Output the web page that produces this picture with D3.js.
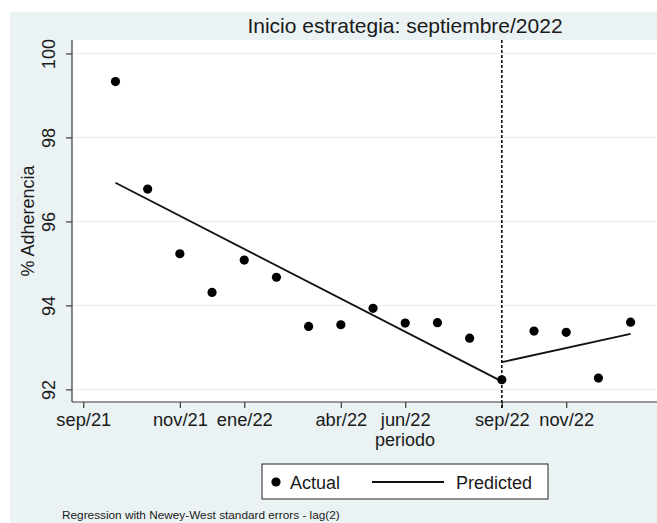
<!DOCTYPE html>
<html>
<head>
<meta charset="utf-8">
<script src="https://cdn.jsdelivr.net/npm/d3@7"></script>
<style>
  html, body { margin: 0; padding: 0; background: #ffffff; }
  svg { display: block; }
  text { font-family: "Liberation Sans", Arial, sans-serif; fill: #1a1a1a; }
</style>
</head>
<body>
<script>
// ---- data ----
const periods = [1, 2, 3, 4, 5, 6, 7, 8, 9, 10, 11, 12, 13, 14, 15, 16, 17];
const actual = [99.33, 96.77, 95.23, 94.31, 95.08, 94.67, 93.50, 93.54, 93.93, 93.58, 93.59, 93.22, 92.23, 93.39, 93.36, 92.27, 93.60];
const predPrePeriods = [1, 13];
const predPreValues = [96.92, 92.19];
const predPostPeriods = [13, 17];
const predPostValues = [92.65, 93.32];
const interventionPeriod = 13;
const xTickValues = [0, 3, 5, 8, 10, 13, 15];
const xTickLabels = ["sep/21", "nov/21", "ene/22", "abr/22", "jun/22", "sep/22", "nov/22"];
const yTickValues = [92, 94, 96, 98, 100];
const titleText = "Inicio estrategia: septiembre/2022";
const yTitle = "% Adherencia";
const xTitle = "periodo";
const legendLabels = ["Actual", "Predicted"];
const noteText = "Regression with Newey-West standard errors - lag(2)";

// ---- layout ----
const W = 657, H = 523;
const plot = { left: 72, right: 657, top: 40, bottom: 402 };
const bg = "#eaf2f3";

const svg = d3.select("body").append("svg").attr("width", W).attr("height", H);

// graph region background
svg.append("rect").attr("x", 10).attr("y", 12).attr("width", W - 10).attr("height", H - 12).attr("fill", bg);
// plot region
svg.append("rect").attr("x", plot.left).attr("y", plot.top)
  .attr("width", plot.right - plot.left).attr("height", plot.bottom - plot.top).attr("fill", "#ffffff");

const x = d3.scaleLinear().domain([-0.35, 17.82]).range([plot.left, plot.right]);
const y = d3.scaleLinear().domain([91.70, 100.32]).range([plot.bottom, plot.top]);

// grid lines
svg.append("g").selectAll("line").data(yTickValues).join("line")
  .attr("x1", plot.left).attr("x2", plot.right)
  .attr("y1", d => y(d)).attr("y2", d => y(d))
  .attr("stroke", bg).attr("stroke-width", 1.2);

// y axis
const yAxis = svg.append("g").attr("transform", `translate(${plot.left},0)`)
  .call(d3.axisLeft(y).tickValues(yTickValues).tickSize(6).tickSizeOuter(0).tickFormat(d3.format("d")));
yAxis.select(".domain").attr("stroke", "#3a3a3a").attr("stroke-width", 1.2)
  .attr("d", `M0,${plot.top}V${plot.bottom}`);
yAxis.selectAll(".tick line").attr("stroke", "#3a3a3a").attr("stroke-width", 1.2);
yAxis.selectAll(".tick text")
  .attr("font-size", 18).attr("fill", "#1a1a1a")
  .attr("x", null).attr("dy", null)
  .attr("text-anchor", "middle")
  .attr("transform", "translate(-17,0) rotate(-90)");

// x axis
const xAxis = svg.append("g").attr("transform", `translate(0,${plot.bottom})`)
  .call(d3.axisBottom(x).tickValues(xTickValues).tickSize(6).tickSizeOuter(0)
    .tickFormat((d, i) => xTickLabels[i]));
xAxis.select(".domain").attr("stroke", "#3a3a3a").attr("stroke-width", 1.2)
  .attr("d", `M${plot.left},0H${plot.right}`);
xAxis.selectAll(".tick line").attr("stroke", "#3a3a3a").attr("stroke-width", 1.2);
xAxis.selectAll(".tick text").attr("font-size", 18.3).attr("fill", "#1a1a1a")
  .attr("y", 24).attr("dy", null);

// intervention dashed line
svg.append("line")
  .attr("x1", x(interventionPeriod)).attr("x2", x(interventionPeriod))
  .attr("y1", plot.top).attr("y2", plot.bottom + 6)
  .attr("stroke", "#111").attr("stroke-width", 1.6).attr("stroke-dasharray", "3,2");

// predicted lines
const line = d3.line().x(d => x(d[0])).y(d => y(d[1]));
svg.append("path").datum(predPrePeriods.map((p, i) => [p, predPreValues[i]]))
  .attr("d", line).attr("fill", "none").attr("stroke", "#111").attr("stroke-width", 1.8);
svg.append("path").datum(predPostPeriods.map((p, i) => [p, predPostValues[i]]))
  .attr("d", line).attr("fill", "none").attr("stroke", "#111").attr("stroke-width", 1.8);

// actual points
svg.append("g").selectAll("circle").data(periods).join("circle")
  .attr("cx", d => x(d)).attr("cy", (d, i) => y(actual[i])).attr("r", 4.6).attr("fill", "#000");

// title
svg.append("text").attr("x", 405).attr("y", 33).attr("text-anchor", "middle")
  .attr("font-size", 21).text(titleText);

// y title
svg.append("text").attr("transform", `translate(34,${(plot.top + plot.bottom) / 2}) rotate(-90)`)
  .attr("text-anchor", "middle").attr("font-size", 18).text(yTitle);

// x title
svg.append("text").attr("x", 405).attr("y", 446).attr("text-anchor", "middle")
  .attr("font-size", 18).text(xTitle);

// legend
const lg = svg.append("g");
lg.append("rect").attr("x", 262).attr("y", 464).attr("width", 286).attr("height", 35)
  .attr("fill", "#fff").attr("stroke", "#222").attr("stroke-width", 1);
lg.append("circle").attr("cx", 276).attr("cy", 482).attr("r", 4.6).attr("fill", "#000");
lg.append("text").attr("x", 290).attr("y", 489).attr("font-size", 18).text(legendLabels[0]);
lg.append("line").attr("x1", 372).attr("x2", 444).attr("y1", 482).attr("y2", 482)
  .attr("stroke", "#111").attr("stroke-width", 1.8);
lg.append("text").attr("x", 456).attr("y", 489).attr("font-size", 18).text(legendLabels[1]);

// note
svg.append("text").attr("x", 62).attr("y", 519).attr("font-size", 11.8).text(noteText);
</script>
</body>
</html>
